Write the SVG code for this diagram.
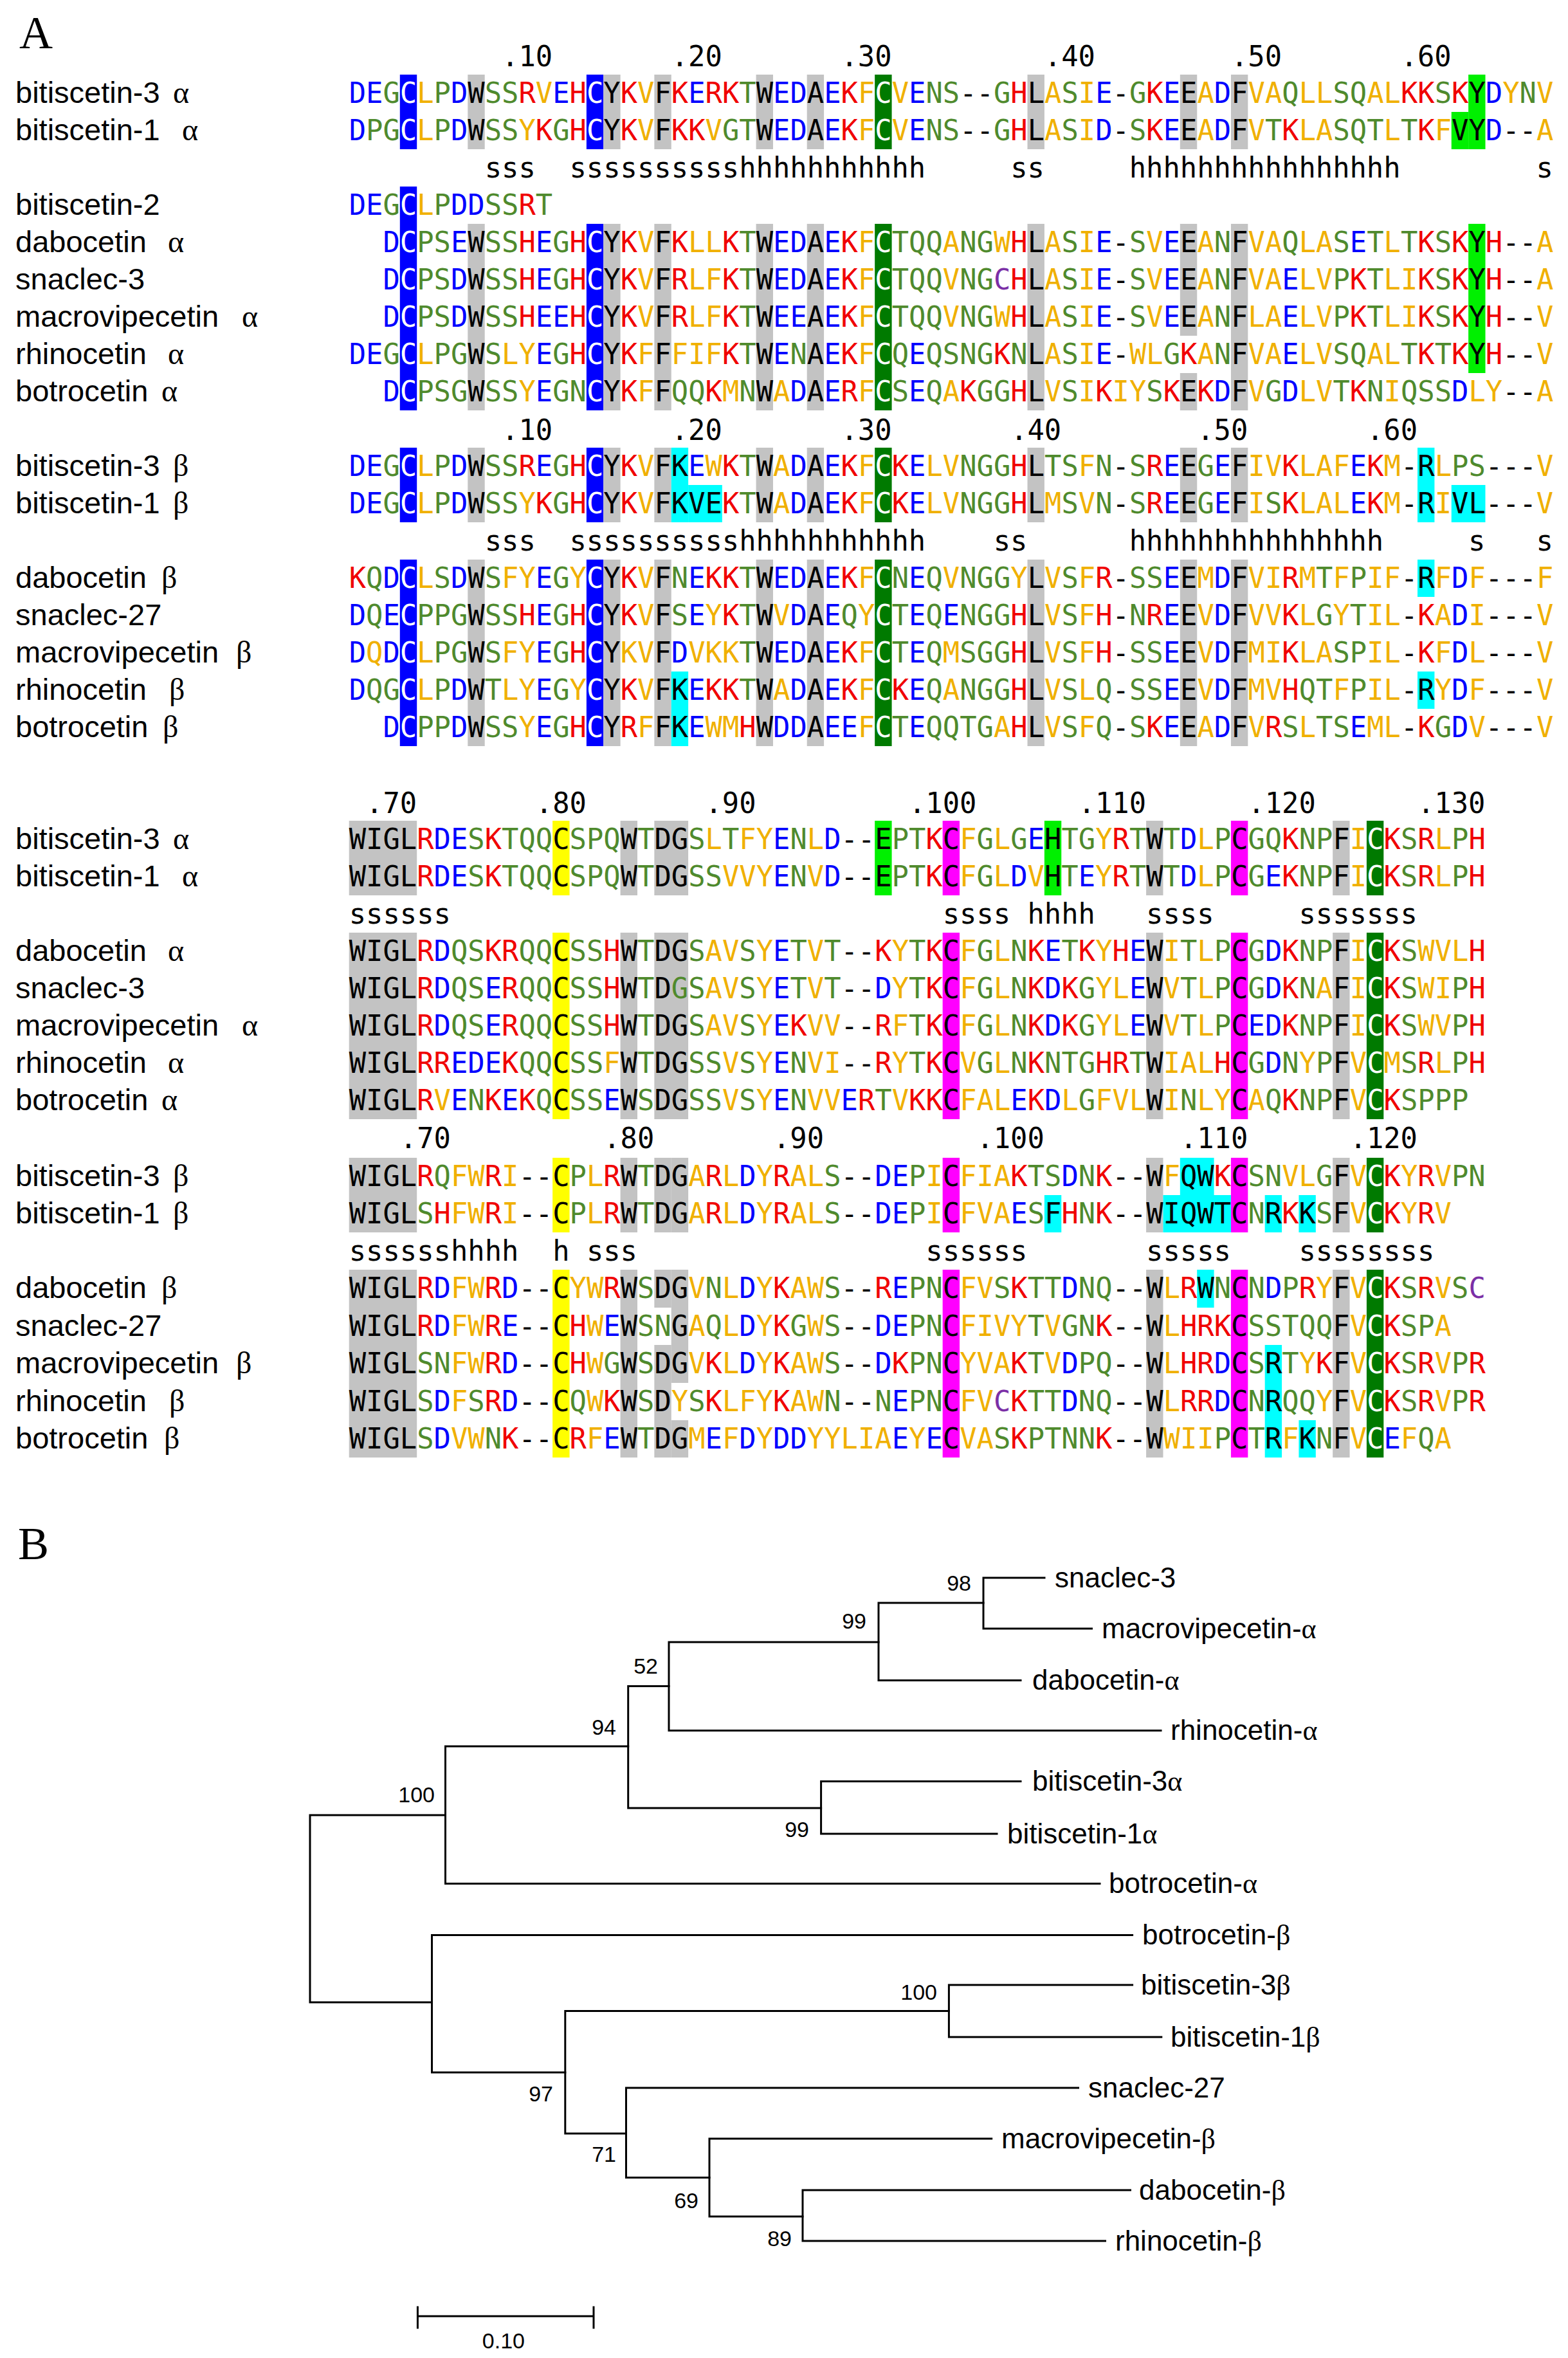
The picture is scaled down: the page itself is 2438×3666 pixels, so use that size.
<svg xmlns="http://www.w3.org/2000/svg" width="2438" height="3666" viewBox="0 0 2438 3666">
<style>
.q{font-family:"DejaVu Sans Mono",monospace;font-size:43.8px;fill:#4f8a2d}
.n{font-family:"DejaVu Sans Mono",monospace;font-size:43.8px;fill:#000}
.b{fill:#0000ff}.r{fill:#f00000}.o{fill:#f0b000}.p{fill:#7b2fa6}.k{fill:#000}.w{fill:#fff}
.nm{font-family:"Liberation Sans",Arial,sans-serif;font-size:47px;fill:#000}
.gr{font-family:"Liberation Serif","Times New Roman",serif;font-size:48px;fill:#000}
.hg{fill:#c3c3c3}.hb{fill:#0000ff}.hd{fill:#007a00}.hm{fill:#ff00ff}.hy{fill:#ffff00}.hl{fill:#00f000}.hc{fill:#00ffff}
.tl{stroke:#000;stroke-width:3;fill:none;stroke-linecap:square}
.bs{font-family:"Liberation Sans",Arial,sans-serif;font-size:34px;fill:#000;text-anchor:end}
.lf{font-family:"Liberation Sans",Arial,sans-serif;font-size:44px;fill:#000}
.lg{font-family:"Liberation Serif","Times New Roman",serif}
.pl{font-family:"Liberation Serif","Times New Roman",serif;font-size:72px;fill:#000}
</style>
<rect width="2438" height="3666" fill="#fff"/>
<text class="pl" x="30" y="75">A</text>
<text class="pl" x="28" y="2424">B</text>

<g id="highlights">
<rect class="hb" x="621.81" y="116" width="26.4" height="116"/><rect class="hb" x="621.81" y="290" width="26.4" height="348"/>
<rect class="hb" x="911.88" y="116" width="26.4" height="116"/><rect class="hb" x="911.88" y="348" width="26.4" height="290"/>
<rect class="hg" x="727.29" y="116" width="26.4" height="116"/><rect class="hg" x="727.29" y="348" width="26.4" height="290"/>
<rect class="hg" x="938.25" y="116" width="26.4" height="116"/><rect class="hg" x="938.25" y="348" width="26.4" height="290"/>
<rect class="hg" x="1017.36" y="116" width="26.4" height="116"/><rect class="hg" x="1017.36" y="348" width="26.4" height="290"/>
<rect class="hg" x="1175.58" y="116" width="26.4" height="116"/><rect class="hg" x="1175.58" y="348" width="26.4" height="290"/>
<rect class="hg" x="1254.69" y="116" width="26.4" height="116"/><rect class="hg" x="1254.69" y="348" width="26.4" height="290"/>
<rect class="hg" x="1597.5" y="116" width="26.4" height="116"/><rect class="hg" x="1597.5" y="348" width="26.4" height="290"/>
<rect class="hg" x="1913.94" y="116" width="26.4" height="116"/><rect class="hg" x="1913.94" y="348" width="26.4" height="290"/>
<rect class="hg" x="1834.83" y="116" width="26.4" height="116"/><rect class="hg" x="1834.83" y="348" width="26.4" height="174"/><rect class="hg" x="1834.83" y="580" width="26.4" height="58"/>
<rect class="hd" x="1360.17" y="116" width="26.4" height="116"/><rect class="hd" x="1360.17" y="348" width="26.4" height="290"/>
<rect class="hl" x="2283.12" y="116" width="26.4" height="116"/><rect class="hl" x="2283.12" y="348" width="26.4" height="232"/><rect class="hl" x="2256.75" y="174" width="26.4" height="58"/>
<rect class="hb" x="621.81" y="696" width="26.4" height="116"/><rect class="hb" x="621.81" y="870" width="26.4" height="290"/>
<rect class="hb" x="911.88" y="696" width="26.4" height="116"/><rect class="hb" x="911.88" y="870" width="26.4" height="290"/>
<rect class="hg" x="727.29" y="696" width="26.4" height="116"/><rect class="hg" x="727.29" y="870" width="26.4" height="290"/>
<rect class="hg" x="938.25" y="696" width="26.4" height="116"/><rect class="hg" x="938.25" y="870" width="26.4" height="290"/>
<rect class="hg" x="1017.36" y="696" width="26.4" height="116"/><rect class="hg" x="1017.36" y="870" width="26.4" height="290"/>
<rect class="hg" x="1175.58" y="696" width="26.4" height="116"/><rect class="hg" x="1175.58" y="870" width="26.4" height="290"/>
<rect class="hg" x="1254.69" y="696" width="26.4" height="116"/><rect class="hg" x="1254.69" y="870" width="26.4" height="290"/>
<rect class="hg" x="1597.5" y="696" width="26.4" height="116"/><rect class="hg" x="1597.5" y="870" width="26.4" height="290"/>
<rect class="hg" x="1834.83" y="696" width="26.4" height="116"/><rect class="hg" x="1834.83" y="870" width="26.4" height="290"/>
<rect class="hg" x="1913.94" y="696" width="26.4" height="116"/><rect class="hg" x="1913.94" y="870" width="26.4" height="290"/>
<rect class="hd" x="1360.17" y="696" width="26.4" height="116"/><rect class="hd" x="1360.17" y="870" width="26.4" height="290"/>
<rect class="hc" x="1043.73" y="696" width="26.4" height="116"/><rect class="hc" x="1043.73" y="1044" width="26.4" height="116"/>
<rect class="hc" x="1070.1" y="754" width="52.74" height="58"/>
<rect class="hc" x="2204.01" y="696" width="26.4" height="116"/><rect class="hc" x="2204.01" y="870" width="26.4" height="58"/><rect class="hc" x="2204.01" y="1044" width="26.4" height="58"/>
<rect class="hc" x="2256.75" y="754" width="52.74" height="58"/>
<rect class="hg" x="542.7" y="1276" width="105.48" height="116"/><rect class="hg" x="542.7" y="1450" width="105.48" height="290"/>
<rect class="hg" x="964.62" y="1276" width="26.4" height="116"/><rect class="hg" x="964.62" y="1450" width="26.4" height="290"/>
<rect class="hg" x="1017.36" y="1276" width="52.74" height="116"/><rect class="hg" x="1017.36" y="1450" width="52.74" height="290"/>
<rect class="hg" x="1782.09" y="1276" width="26.4" height="116"/><rect class="hg" x="1782.09" y="1450" width="26.4" height="290"/>
<rect class="hg" x="2072.16" y="1276" width="26.4" height="116"/><rect class="hg" x="2072.16" y="1450" width="26.4" height="290"/>
<rect class="hy" x="859.14" y="1276" width="26.4" height="116"/><rect class="hy" x="859.14" y="1450" width="26.4" height="290"/>
<rect class="hl" x="1360.17" y="1276" width="26.4" height="116"/><rect class="hl" x="1623.87" y="1276" width="26.4" height="116"/>
<rect class="hm" x="1465.65" y="1276" width="26.4" height="116"/><rect class="hm" x="1465.65" y="1450" width="26.4" height="290"/>
<rect class="hm" x="1913.94" y="1276" width="26.4" height="116"/><rect class="hm" x="1913.94" y="1450" width="26.4" height="290"/>
<rect class="hd" x="2124.9" y="1276" width="26.4" height="116"/><rect class="hd" x="2124.9" y="1450" width="26.4" height="290"/>
<rect class="hg" x="542.7" y="1800" width="105.48" height="116"/><rect class="hg" x="542.7" y="1974" width="105.48" height="292"/>
<rect class="hg" x="964.62" y="1800" width="26.4" height="116"/><rect class="hg" x="964.62" y="1974" width="26.4" height="292"/>
<rect class="hg" x="1782.09" y="1800" width="26.4" height="116"/><rect class="hg" x="1782.09" y="1974" width="26.4" height="292"/>
<rect class="hg" x="2072.16" y="1800" width="26.4" height="116"/><rect class="hg" x="2072.16" y="1974" width="26.4" height="292"/>
<rect class="hg" x="1017.36" y="1800" width="26.4" height="116"/><rect class="hg" x="1017.36" y="1974" width="26.4" height="59"/><rect class="hg" x="1017.36" y="2091" width="26.4" height="175"/>
<rect class="hg" x="1043.73" y="1800" width="26.4" height="116"/><rect class="hg" x="1043.73" y="1974" width="26.4" height="176"/><rect class="hg" x="1043.73" y="2208" width="26.4" height="58"/>
<rect class="hy" x="859.14" y="1800" width="26.4" height="116"/><rect class="hy" x="859.14" y="1974" width="26.4" height="292"/>
<rect class="hm" x="1465.65" y="1800" width="26.4" height="116"/><rect class="hm" x="1465.65" y="1974" width="26.4" height="292"/>
<rect class="hm" x="1913.94" y="1800" width="26.4" height="116"/><rect class="hm" x="1913.94" y="1974" width="26.4" height="292"/>
<rect class="hd" x="2124.9" y="1800" width="26.4" height="116"/><rect class="hd" x="2124.9" y="1974" width="26.4" height="292"/>
<rect class="hc" x="1834.83" y="1800" width="52.74" height="58"/><rect class="hc" x="1808.46" y="1858" width="105.48" height="58"/>
<rect class="hc" x="1623.87" y="1858" width="26.4" height="58"/><rect class="hc" x="1966.68" y="1858" width="26.4" height="58"/><rect class="hc" x="2019.42" y="1858" width="26.4" height="58"/>
<rect class="hc" x="1861.2" y="1974" width="26.4" height="59"/><rect class="hc" x="1966.68" y="2091" width="26.4" height="175"/><rect class="hc" x="2019.42" y="2208" width="26.4" height="58"/>
</g>

<g id="rulers">
<text class="n" x="780.03" y="103">.10</text><text class="n" x="1043.73" y="103">.20</text><text class="n" x="1307.43" y="103">.30</text><text class="n" x="1623.87" y="103">.40</text><text class="n" x="1913.94" y="103">.50</text><text class="n" x="2177.64" y="103">.60</text>
<text class="n" x="753.66" y="276">sss</text><text class="n" x="885.51" y="276">sssssssssshhhhhhhhhhh</text><text class="n" x="1571.13" y="276">ss</text><text class="n" x="1755.72" y="276">hhhhhhhhhhhhhhhh</text><text class="n" x="2388.6" y="276">s</text>
<text class="n" x="780.03" y="684">.10</text><text class="n" x="1043.73" y="684">.20</text><text class="n" x="1307.43" y="684">.30</text><text class="n" x="1571.13" y="684">.40</text><text class="n" x="1861.2" y="684">.50</text><text class="n" x="2124.9" y="684">.60</text>
<text class="n" x="753.66" y="856">sss</text><text class="n" x="885.51" y="856">sssssssssshhhhhhhhhhh</text><text class="n" x="1544.76" y="856">ss</text><text class="n" x="1755.72" y="856">hhhhhhhhhhhhhhh</text><text class="n" x="2283.12" y="856">s</text><text class="n" x="2388.6" y="856">s</text>
<text class="n" x="569.07" y="1264">.70</text><text class="n" x="832.77" y="1264">.80</text><text class="n" x="1096.47" y="1264">.90</text><text class="n" x="1412.91" y="1264">.100</text><text class="n" x="1676.61" y="1264">.110</text><text class="n" x="1940.31" y="1264">.120</text><text class="n" x="2204.01" y="1264">.130</text>
<text class="n" x="542.7" y="1436">ssssss</text><text class="n" x="1465.65" y="1436">ssss</text><text class="n" x="1597.5" y="1436">hhhh</text><text class="n" x="1782.09" y="1436">ssss</text><text class="n" x="2019.42" y="1436">sssssss</text>
<text class="n" x="621.81" y="1785">.70</text><text class="n" x="938.25" y="1785">.80</text><text class="n" x="1201.95" y="1785">.90</text><text class="n" x="1518.39" y="1785">.100</text><text class="n" x="1834.83" y="1785">.110</text><text class="n" x="2098.53" y="1785">.120</text>
<text class="n" x="542.7" y="1960">sssssshhhh</text><text class="n" x="859.14" y="1960">h</text><text class="n" x="911.88" y="1960">sss</text><text class="n" x="1439.28" y="1960">ssssss</text><text class="n" x="1782.09" y="1960">sssss</text><text class="n" x="2019.42" y="1960">ssssssss</text>
</g>

<g id="names">
<text class="nm" x="24" y="160">bitiscetin-3</text><text class="gr" x="269" y="160">α</text>
<text class="nm" x="24" y="218">bitiscetin-1</text><text class="gr" x="283" y="218">α</text>
<text class="nm" x="24" y="334">bitiscetin-2</text>
<text class="nm" x="24" y="392">dabocetin</text><text class="gr" x="261" y="392">α</text>
<text class="nm" x="24" y="450">snaclec-3</text>
<text class="nm" x="24" y="508">macrovipecetin</text><text class="gr" x="376" y="508">α</text>
<text class="nm" x="24" y="566">rhinocetin</text><text class="gr" x="261" y="566">α</text>
<text class="nm" x="24" y="624">botrocetin</text><text class="gr" x="251" y="624">α</text>
<text class="nm" x="24" y="740">bitiscetin-3</text><text class="gr" x="269" y="740">β</text>
<text class="nm" x="24" y="798">bitiscetin-1</text><text class="gr" x="269" y="798">β</text>
<text class="nm" x="24" y="914">dabocetin</text><text class="gr" x="251" y="914">β</text>
<text class="nm" x="24" y="972">snaclec-27</text>
<text class="nm" x="24" y="1030">macrovipecetin</text><text class="gr" x="367" y="1030">β</text>
<text class="nm" x="24" y="1088">rhinocetin</text><text class="gr" x="263" y="1088">β</text>
<text class="nm" x="24" y="1146">botrocetin</text><text class="gr" x="253" y="1146">β</text>
<text class="nm" x="24" y="1320">bitiscetin-3</text><text class="gr" x="269" y="1320">α</text>
<text class="nm" x="24" y="1378">bitiscetin-1</text><text class="gr" x="283" y="1378">α</text>
<text class="nm" x="24" y="1494">dabocetin</text><text class="gr" x="261" y="1494">α</text>
<text class="nm" x="24" y="1552">snaclec-3</text>
<text class="nm" x="24" y="1610">macrovipecetin</text><text class="gr" x="376" y="1610">α</text>
<text class="nm" x="24" y="1668">rhinocetin</text><text class="gr" x="261" y="1668">α</text>
<text class="nm" x="24" y="1726">botrocetin</text><text class="gr" x="251" y="1726">α</text>
<text class="nm" x="24" y="1844">bitiscetin-3</text><text class="gr" x="269" y="1844">β</text>
<text class="nm" x="24" y="1902">bitiscetin-1</text><text class="gr" x="269" y="1902">β</text>
<text class="nm" x="24" y="2018">dabocetin</text><text class="gr" x="251" y="2018">β</text>
<text class="nm" x="24" y="2077">snaclec-27</text>
<text class="nm" x="24" y="2135">macrovipecetin</text><text class="gr" x="367" y="2135">β</text>
<text class="nm" x="24" y="2194">rhinocetin</text><text class="gr" x="263" y="2194">β</text>
<text class="nm" x="24" y="2252">botrocetin</text><text class="gr" x="255" y="2252">β</text>
</g>

<g id="sequences">
<text class="q" x="542.7" y="160"><tspan class="b">DE</tspan>G<tspan class="w">C</tspan><tspan class="o">L</tspan>P<tspan class="b">D</tspan><tspan class="k">W</tspan>SS<tspan class="r">R</tspan><tspan class="o">V</tspan><tspan class="b">E</tspan><tspan class="r">H</tspan><tspan class="w">C</tspan><tspan class="k">Y</tspan><tspan class="r">K</tspan><tspan class="o">V</tspan><tspan class="k">F</tspan><tspan class="r">K</tspan><tspan class="b">E</tspan><tspan class="r">RK</tspan>T<tspan class="k">W</tspan><tspan class="b">ED</tspan><tspan class="k">A</tspan><tspan class="b">E</tspan><tspan class="r">K</tspan><tspan class="o">F</tspan><tspan class="w">C</tspan><tspan class="o">V</tspan><tspan class="b">E</tspan>NS<tspan class="k">--</tspan>G<tspan class="r">H</tspan><tspan class="k">L</tspan><tspan class="o">A</tspan>S<tspan class="o">I</tspan><tspan class="b">E</tspan><tspan class="k">-</tspan>G<tspan class="r">K</tspan><tspan class="b">E</tspan><tspan class="k">E</tspan><tspan class="o">A</tspan><tspan class="b">D</tspan><tspan class="k">F</tspan><tspan class="o">VA</tspan>Q<tspan class="o">LL</tspan>SQ<tspan class="o">AL</tspan><tspan class="r">KK</tspan>S<tspan class="r">K</tspan><tspan class="k">Y</tspan><tspan class="b">D</tspan><tspan class="o">Y</tspan>N<tspan class="o">V</tspan></text>
<text class="q" x="542.7" y="218"><tspan class="b">D</tspan>PG<tspan class="w">C</tspan><tspan class="o">L</tspan>P<tspan class="b">D</tspan><tspan class="k">W</tspan>SS<tspan class="o">Y</tspan><tspan class="r">K</tspan>G<tspan class="r">H</tspan><tspan class="w">C</tspan><tspan class="k">Y</tspan><tspan class="r">K</tspan><tspan class="o">V</tspan><tspan class="k">F</tspan><tspan class="r">KK</tspan><tspan class="o">V</tspan>GT<tspan class="k">W</tspan><tspan class="b">ED</tspan><tspan class="k">A</tspan><tspan class="b">E</tspan><tspan class="r">K</tspan><tspan class="o">F</tspan><tspan class="w">C</tspan><tspan class="o">V</tspan><tspan class="b">E</tspan>NS<tspan class="k">--</tspan>G<tspan class="r">H</tspan><tspan class="k">L</tspan><tspan class="o">A</tspan>S<tspan class="o">I</tspan><tspan class="b">D</tspan><tspan class="k">-</tspan>S<tspan class="r">K</tspan><tspan class="b">E</tspan><tspan class="k">E</tspan><tspan class="o">A</tspan><tspan class="b">D</tspan><tspan class="k">F</tspan><tspan class="o">V</tspan>T<tspan class="r">K</tspan><tspan class="o">LA</tspan>SQT<tspan class="o">L</tspan>T<tspan class="r">K</tspan><tspan class="o">F</tspan><tspan class="k">VY</tspan><tspan class="b">D</tspan><tspan class="k">--</tspan><tspan class="o">A</tspan></text>
<text class="q" x="542.7" y="334"><tspan class="b">DE</tspan>G<tspan class="w">C</tspan><tspan class="o">L</tspan>P<tspan class="b">DD</tspan>SS<tspan class="r">R</tspan>T</text>
<text class="q" x="595.44" y="392"><tspan class="b">D</tspan><tspan class="w">C</tspan>PS<tspan class="b">E</tspan><tspan class="k">W</tspan>SS<tspan class="r">H</tspan><tspan class="b">E</tspan>G<tspan class="r">H</tspan><tspan class="w">C</tspan><tspan class="k">Y</tspan><tspan class="r">K</tspan><tspan class="o">V</tspan><tspan class="k">F</tspan><tspan class="r">K</tspan><tspan class="o">LL</tspan><tspan class="r">K</tspan>T<tspan class="k">W</tspan><tspan class="b">ED</tspan><tspan class="k">A</tspan><tspan class="b">E</tspan><tspan class="r">K</tspan><tspan class="o">F</tspan><tspan class="w">C</tspan>TQQ<tspan class="o">A</tspan>NG<tspan class="o">W</tspan><tspan class="r">H</tspan><tspan class="k">L</tspan><tspan class="o">A</tspan>S<tspan class="o">I</tspan><tspan class="b">E</tspan><tspan class="k">-</tspan>S<tspan class="o">V</tspan><tspan class="b">E</tspan><tspan class="k">E</tspan><tspan class="o">A</tspan>N<tspan class="k">F</tspan><tspan class="o">VA</tspan>Q<tspan class="o">LA</tspan>S<tspan class="b">E</tspan>T<tspan class="o">L</tspan>T<tspan class="r">K</tspan>S<tspan class="r">K</tspan><tspan class="k">Y</tspan><tspan class="r">H</tspan><tspan class="k">--</tspan><tspan class="o">A</tspan></text>
<text class="q" x="595.44" y="450"><tspan class="b">D</tspan><tspan class="w">C</tspan>PS<tspan class="b">D</tspan><tspan class="k">W</tspan>SS<tspan class="r">H</tspan><tspan class="b">E</tspan>G<tspan class="r">H</tspan><tspan class="w">C</tspan><tspan class="k">Y</tspan><tspan class="r">K</tspan><tspan class="o">V</tspan><tspan class="k">F</tspan><tspan class="r">R</tspan><tspan class="o">LF</tspan><tspan class="r">K</tspan>T<tspan class="k">W</tspan><tspan class="b">ED</tspan><tspan class="k">A</tspan><tspan class="b">E</tspan><tspan class="r">K</tspan><tspan class="o">F</tspan><tspan class="w">C</tspan>TQQ<tspan class="o">V</tspan>NG<tspan class="p">C</tspan><tspan class="r">H</tspan><tspan class="k">L</tspan><tspan class="o">A</tspan>S<tspan class="o">I</tspan><tspan class="b">E</tspan><tspan class="k">-</tspan>S<tspan class="o">V</tspan><tspan class="b">E</tspan><tspan class="k">E</tspan><tspan class="o">A</tspan>N<tspan class="k">F</tspan><tspan class="o">VA</tspan><tspan class="b">E</tspan><tspan class="o">LV</tspan>P<tspan class="r">K</tspan>T<tspan class="o">LI</tspan><tspan class="r">K</tspan>S<tspan class="r">K</tspan><tspan class="k">Y</tspan><tspan class="r">H</tspan><tspan class="k">--</tspan><tspan class="o">A</tspan></text>
<text class="q" x="595.44" y="508"><tspan class="b">D</tspan><tspan class="w">C</tspan>PS<tspan class="b">D</tspan><tspan class="k">W</tspan>SS<tspan class="r">H</tspan><tspan class="b">EE</tspan><tspan class="r">H</tspan><tspan class="w">C</tspan><tspan class="k">Y</tspan><tspan class="r">K</tspan><tspan class="o">V</tspan><tspan class="k">F</tspan><tspan class="r">R</tspan><tspan class="o">LF</tspan><tspan class="r">K</tspan>T<tspan class="k">W</tspan><tspan class="b">EE</tspan><tspan class="k">A</tspan><tspan class="b">E</tspan><tspan class="r">K</tspan><tspan class="o">F</tspan><tspan class="w">C</tspan>TQQ<tspan class="o">V</tspan>NG<tspan class="o">W</tspan><tspan class="r">H</tspan><tspan class="k">L</tspan><tspan class="o">A</tspan>S<tspan class="o">I</tspan><tspan class="b">E</tspan><tspan class="k">-</tspan>S<tspan class="o">V</tspan><tspan class="b">E</tspan><tspan class="k">E</tspan><tspan class="o">A</tspan>N<tspan class="k">F</tspan><tspan class="o">LA</tspan><tspan class="b">E</tspan><tspan class="o">LV</tspan>P<tspan class="r">K</tspan>T<tspan class="o">LI</tspan><tspan class="r">K</tspan>S<tspan class="r">K</tspan><tspan class="k">Y</tspan><tspan class="r">H</tspan><tspan class="k">--</tspan><tspan class="o">V</tspan></text>
<text class="q" x="542.7" y="566"><tspan class="b">DE</tspan>G<tspan class="w">C</tspan><tspan class="o">L</tspan>PG<tspan class="k">W</tspan>S<tspan class="o">LY</tspan><tspan class="b">E</tspan>G<tspan class="r">H</tspan><tspan class="w">C</tspan><tspan class="k">Y</tspan><tspan class="r">K</tspan><tspan class="o">F</tspan><tspan class="k">F</tspan><tspan class="o">FIF</tspan><tspan class="r">K</tspan>T<tspan class="k">W</tspan><tspan class="b">E</tspan>N<tspan class="k">A</tspan><tspan class="b">E</tspan><tspan class="r">K</tspan><tspan class="o">F</tspan><tspan class="w">C</tspan>Q<tspan class="b">E</tspan>QSNG<tspan class="r">K</tspan>N<tspan class="k">L</tspan><tspan class="o">A</tspan>S<tspan class="o">I</tspan><tspan class="b">E</tspan><tspan class="k">-</tspan><tspan class="o">WL</tspan>G<tspan class="r">K</tspan><tspan class="o">A</tspan>N<tspan class="k">F</tspan><tspan class="o">VA</tspan><tspan class="b">E</tspan><tspan class="o">LV</tspan>SQ<tspan class="o">AL</tspan>T<tspan class="r">K</tspan>T<tspan class="r">K</tspan><tspan class="k">Y</tspan><tspan class="r">H</tspan><tspan class="k">--</tspan><tspan class="o">V</tspan></text>
<text class="q" x="595.44" y="624"><tspan class="b">D</tspan><tspan class="w">C</tspan>PSG<tspan class="k">W</tspan>SS<tspan class="o">Y</tspan><tspan class="b">E</tspan>GN<tspan class="w">C</tspan><tspan class="k">Y</tspan><tspan class="r">K</tspan><tspan class="o">F</tspan><tspan class="k">F</tspan>QQ<tspan class="r">K</tspan><tspan class="o">M</tspan>N<tspan class="k">W</tspan><tspan class="o">A</tspan><tspan class="b">D</tspan><tspan class="k">A</tspan><tspan class="b">E</tspan><tspan class="r">R</tspan><tspan class="o">F</tspan><tspan class="w">C</tspan>S<tspan class="b">E</tspan>Q<tspan class="o">A</tspan><tspan class="r">K</tspan>GG<tspan class="r">H</tspan><tspan class="k">L</tspan><tspan class="o">V</tspan>S<tspan class="o">I</tspan><tspan class="r">K</tspan><tspan class="o">IY</tspan>S<tspan class="r">K</tspan><tspan class="k">E</tspan><tspan class="r">K</tspan><tspan class="b">D</tspan><tspan class="k">F</tspan><tspan class="o">V</tspan>G<tspan class="b">D</tspan><tspan class="o">LV</tspan>T<tspan class="r">K</tspan>N<tspan class="o">I</tspan>QSS<tspan class="b">D</tspan><tspan class="o">LY</tspan><tspan class="k">--</tspan><tspan class="o">A</tspan></text>

<text class="q" x="542.7" y="740"><tspan class="b">DE</tspan>G<tspan class="w">C</tspan><tspan class="o">L</tspan>P<tspan class="b">D</tspan><tspan class="k">W</tspan>SS<tspan class="r">R</tspan><tspan class="b">E</tspan>G<tspan class="r">H</tspan><tspan class="w">C</tspan><tspan class="k">Y</tspan><tspan class="r">K</tspan><tspan class="o">V</tspan><tspan class="k">FK</tspan><tspan class="b">E</tspan><tspan class="o">W</tspan><tspan class="r">K</tspan>T<tspan class="k">W</tspan><tspan class="o">A</tspan><tspan class="b">D</tspan><tspan class="k">A</tspan><tspan class="b">E</tspan><tspan class="r">K</tspan><tspan class="o">F</tspan><tspan class="w">C</tspan><tspan class="r">K</tspan><tspan class="b">E</tspan><tspan class="o">LV</tspan>NGG<tspan class="r">H</tspan><tspan class="k">L</tspan>TS<tspan class="o">F</tspan>N<tspan class="k">-</tspan>S<tspan class="r">R</tspan><tspan class="b">E</tspan><tspan class="k">E</tspan>G<tspan class="b">E</tspan><tspan class="k">F</tspan><tspan class="o">IV</tspan><tspan class="r">K</tspan><tspan class="o">LAF</tspan><tspan class="b">E</tspan><tspan class="r">K</tspan><tspan class="o">M</tspan><tspan class="k">-R</tspan><tspan class="o">L</tspan>PS<tspan class="k">---</tspan><tspan class="o">V</tspan></text>
<text class="q" x="542.7" y="798"><tspan class="b">DE</tspan>G<tspan class="w">C</tspan><tspan class="o">L</tspan>P<tspan class="b">D</tspan><tspan class="k">W</tspan>SS<tspan class="o">Y</tspan><tspan class="r">K</tspan>G<tspan class="r">H</tspan><tspan class="w">C</tspan><tspan class="k">Y</tspan><tspan class="r">K</tspan><tspan class="o">V</tspan><tspan class="k">FKVE</tspan><tspan class="r">K</tspan>T<tspan class="k">W</tspan><tspan class="o">A</tspan><tspan class="b">D</tspan><tspan class="k">A</tspan><tspan class="b">E</tspan><tspan class="r">K</tspan><tspan class="o">F</tspan><tspan class="w">C</tspan><tspan class="r">K</tspan><tspan class="b">E</tspan><tspan class="o">LV</tspan>NGG<tspan class="r">H</tspan><tspan class="k">L</tspan><tspan class="o">M</tspan>S<tspan class="o">V</tspan>N<tspan class="k">-</tspan>S<tspan class="r">R</tspan><tspan class="b">E</tspan><tspan class="k">E</tspan>G<tspan class="b">E</tspan><tspan class="k">F</tspan><tspan class="o">I</tspan>S<tspan class="r">K</tspan><tspan class="o">LAL</tspan><tspan class="b">E</tspan><tspan class="r">K</tspan><tspan class="o">M</tspan><tspan class="k">-R</tspan><tspan class="o">I</tspan><tspan class="k">VL---</tspan><tspan class="o">V</tspan></text>
<text class="q" x="542.7" y="914"><tspan class="r">K</tspan>Q<tspan class="b">D</tspan><tspan class="w">C</tspan><tspan class="o">L</tspan>S<tspan class="b">D</tspan><tspan class="k">W</tspan>S<tspan class="o">FY</tspan><tspan class="b">E</tspan>G<tspan class="o">Y</tspan><tspan class="w">C</tspan><tspan class="k">Y</tspan><tspan class="r">K</tspan><tspan class="o">V</tspan><tspan class="k">F</tspan>N<tspan class="b">E</tspan><tspan class="r">KK</tspan>T<tspan class="k">W</tspan><tspan class="b">ED</tspan><tspan class="k">A</tspan><tspan class="b">E</tspan><tspan class="r">K</tspan><tspan class="o">F</tspan><tspan class="w">C</tspan>N<tspan class="b">E</tspan>Q<tspan class="o">V</tspan>NGG<tspan class="o">Y</tspan><tspan class="k">L</tspan><tspan class="o">V</tspan>S<tspan class="o">F</tspan><tspan class="r">R</tspan><tspan class="k">-</tspan>SS<tspan class="b">E</tspan><tspan class="k">E</tspan><tspan class="o">M</tspan><tspan class="b">D</tspan><tspan class="k">F</tspan><tspan class="o">VI</tspan><tspan class="r">R</tspan><tspan class="o">M</tspan>T<tspan class="o">F</tspan>P<tspan class="o">IF</tspan><tspan class="k">-R</tspan><tspan class="o">F</tspan><tspan class="b">D</tspan><tspan class="o">F</tspan><tspan class="k">---</tspan><tspan class="o">F</tspan></text>
<text class="q" x="542.7" y="972"><tspan class="b">D</tspan>Q<tspan class="b">E</tspan><tspan class="w">C</tspan>PPG<tspan class="k">W</tspan>SS<tspan class="r">H</tspan><tspan class="b">E</tspan>G<tspan class="r">H</tspan><tspan class="w">C</tspan><tspan class="k">Y</tspan><tspan class="r">K</tspan><tspan class="o">V</tspan><tspan class="k">F</tspan>S<tspan class="b">E</tspan><tspan class="o">Y</tspan><tspan class="r">K</tspan>T<tspan class="k">W</tspan><tspan class="o">V</tspan><tspan class="b">D</tspan><tspan class="k">A</tspan><tspan class="b">E</tspan>Q<tspan class="o">Y</tspan><tspan class="w">C</tspan>T<tspan class="b">E</tspan>Q<tspan class="b">E</tspan>NGG<tspan class="r">H</tspan><tspan class="k">L</tspan><tspan class="o">V</tspan>S<tspan class="o">F</tspan><tspan class="r">H</tspan><tspan class="k">-</tspan>N<tspan class="r">R</tspan><tspan class="b">E</tspan><tspan class="k">E</tspan><tspan class="o">V</tspan><tspan class="b">D</tspan><tspan class="k">F</tspan><tspan class="o">VV</tspan><tspan class="r">K</tspan><tspan class="o">L</tspan>G<tspan class="o">Y</tspan>T<tspan class="o">IL</tspan><tspan class="k">-</tspan><tspan class="r">K</tspan><tspan class="o">A</tspan><tspan class="b">D</tspan><tspan class="o">I</tspan><tspan class="k">---</tspan><tspan class="o">V</tspan></text>
<text class="q" x="542.7" y="1030"><tspan class="b">D</tspan><tspan class="o">Q</tspan><tspan class="b">D</tspan><tspan class="w">C</tspan><tspan class="o">L</tspan>PG<tspan class="k">W</tspan>S<tspan class="o">FY</tspan><tspan class="b">E</tspan>G<tspan class="r">H</tspan><tspan class="w">C</tspan><tspan class="k">Y</tspan><tspan class="o">KV</tspan><tspan class="k">F</tspan><tspan class="b">D</tspan><tspan class="o">VKK</tspan>T<tspan class="k">W</tspan><tspan class="b">ED</tspan><tspan class="k">A</tspan><tspan class="b">E</tspan><tspan class="r">K</tspan><tspan class="o">F</tspan><tspan class="w">C</tspan>T<tspan class="b">E</tspan>Q<tspan class="o">M</tspan>SGG<tspan class="r">H</tspan><tspan class="k">L</tspan><tspan class="o">V</tspan>S<tspan class="o">F</tspan><tspan class="r">H</tspan><tspan class="k">-</tspan>SS<tspan class="b">E</tspan><tspan class="k">E</tspan><tspan class="o">V</tspan><tspan class="b">D</tspan><tspan class="k">F</tspan><tspan class="o">MI</tspan><tspan class="r">K</tspan><tspan class="o">LA</tspan>SP<tspan class="o">IL</tspan><tspan class="k">-</tspan><tspan class="r">K</tspan><tspan class="o">F</tspan><tspan class="b">D</tspan><tspan class="o">L</tspan><tspan class="k">---</tspan><tspan class="o">V</tspan></text>
<text class="q" x="542.7" y="1088"><tspan class="b">D</tspan>QG<tspan class="w">C</tspan><tspan class="o">L</tspan>P<tspan class="b">D</tspan><tspan class="k">W</tspan>T<tspan class="o">LY</tspan><tspan class="b">E</tspan>G<tspan class="o">Y</tspan><tspan class="w">C</tspan><tspan class="k">Y</tspan><tspan class="r">K</tspan><tspan class="o">V</tspan><tspan class="k">FK</tspan><tspan class="b">E</tspan><tspan class="r">KK</tspan>T<tspan class="k">W</tspan><tspan class="o">A</tspan><tspan class="b">D</tspan><tspan class="k">A</tspan><tspan class="b">E</tspan><tspan class="r">K</tspan><tspan class="o">F</tspan><tspan class="w">C</tspan><tspan class="r">K</tspan><tspan class="b">E</tspan>Q<tspan class="o">A</tspan>NGG<tspan class="r">H</tspan><tspan class="k">L</tspan><tspan class="o">V</tspan>S<tspan class="o">L</tspan>Q<tspan class="k">-</tspan>SS<tspan class="b">E</tspan><tspan class="k">E</tspan><tspan class="o">V</tspan><tspan class="b">D</tspan><tspan class="k">F</tspan><tspan class="o">MV</tspan><tspan class="r">H</tspan>QT<tspan class="o">F</tspan>P<tspan class="o">IL</tspan><tspan class="k">-R</tspan><tspan class="o">Y</tspan><tspan class="b">D</tspan><tspan class="o">F</tspan><tspan class="k">---</tspan><tspan class="o">V</tspan></text>
<text class="q" x="595.44" y="1146"><tspan class="b">D</tspan><tspan class="w">C</tspan>PP<tspan class="b">D</tspan><tspan class="k">W</tspan>SS<tspan class="o">Y</tspan><tspan class="b">E</tspan>G<tspan class="r">H</tspan><tspan class="w">C</tspan><tspan class="k">Y</tspan><tspan class="r">R</tspan><tspan class="o">F</tspan><tspan class="k">FK</tspan><tspan class="b">E</tspan><tspan class="o">WM</tspan><tspan class="r">H</tspan><tspan class="k">W</tspan><tspan class="b">DD</tspan><tspan class="k">A</tspan><tspan class="b">EE</tspan><tspan class="o">F</tspan><tspan class="w">C</tspan>T<tspan class="b">E</tspan>QQTG<tspan class="o">A</tspan><tspan class="r">H</tspan><tspan class="k">L</tspan><tspan class="o">V</tspan>S<tspan class="o">F</tspan>Q<tspan class="k">-</tspan>S<tspan class="r">K</tspan><tspan class="b">E</tspan><tspan class="k">E</tspan><tspan class="o">A</tspan><tspan class="b">D</tspan><tspan class="k">F</tspan><tspan class="o">V</tspan><tspan class="r">R</tspan>S<tspan class="o">L</tspan>TS<tspan class="b">E</tspan><tspan class="o">ML</tspan><tspan class="k">-</tspan><tspan class="r">K</tspan>G<tspan class="b">D</tspan><tspan class="o">V</tspan><tspan class="k">---</tspan><tspan class="o">V</tspan></text>

<text class="q" x="542.7" y="1320"><tspan class="k">WIGL</tspan><tspan class="r">R</tspan><tspan class="b">DE</tspan>S<tspan class="r">K</tspan>TQQ<tspan class="k">C</tspan>SPQ<tspan class="k">W</tspan>T<tspan class="k">DG</tspan>S<tspan class="o">L</tspan>T<tspan class="o">FY</tspan><tspan class="b">E</tspan>N<tspan class="o">L</tspan><tspan class="b">D</tspan><tspan class="k">--E</tspan>PT<tspan class="r">K</tspan><tspan class="k">C</tspan><tspan class="o">F</tspan>G<tspan class="o">L</tspan>G<tspan class="b">E</tspan><tspan class="k">H</tspan>TG<tspan class="o">Y</tspan><tspan class="r">R</tspan>T<tspan class="k">W</tspan>T<tspan class="b">D</tspan><tspan class="o">L</tspan>P<tspan class="k">C</tspan>GQ<tspan class="r">K</tspan>NP<tspan class="k">F</tspan><tspan class="o">I</tspan><tspan class="w">C</tspan><tspan class="r">K</tspan>S<tspan class="r">R</tspan><tspan class="o">L</tspan>P<tspan class="r">H</tspan></text>
<text class="q" x="542.7" y="1378"><tspan class="k">WIGL</tspan><tspan class="r">R</tspan><tspan class="b">DE</tspan>S<tspan class="r">K</tspan>TQQ<tspan class="k">C</tspan>SPQ<tspan class="k">W</tspan>T<tspan class="k">DG</tspan>SS<tspan class="o">VVY</tspan><tspan class="b">E</tspan>N<tspan class="o">V</tspan><tspan class="b">D</tspan><tspan class="k">--E</tspan>PT<tspan class="r">K</tspan><tspan class="k">C</tspan><tspan class="o">F</tspan>G<tspan class="o">L</tspan><tspan class="b">D</tspan><tspan class="o">V</tspan><tspan class="k">H</tspan>T<tspan class="b">E</tspan><tspan class="o">Y</tspan><tspan class="r">R</tspan>T<tspan class="k">W</tspan>T<tspan class="b">D</tspan><tspan class="o">L</tspan>P<tspan class="k">C</tspan>G<tspan class="b">E</tspan><tspan class="r">K</tspan>NP<tspan class="k">F</tspan><tspan class="o">I</tspan><tspan class="w">C</tspan><tspan class="r">K</tspan>S<tspan class="r">R</tspan><tspan class="o">L</tspan>P<tspan class="r">H</tspan></text>
<text class="q" x="542.7" y="1494"><tspan class="k">WIGL</tspan><tspan class="r">R</tspan><tspan class="b">D</tspan>QS<tspan class="r">KR</tspan>QQ<tspan class="k">C</tspan>SS<tspan class="r">H</tspan><tspan class="k">W</tspan>T<tspan class="k">DG</tspan>S<tspan class="o">AV</tspan>S<tspan class="o">Y</tspan><tspan class="b">E</tspan>T<tspan class="o">V</tspan>T<tspan class="k">--</tspan><tspan class="r">K</tspan><tspan class="o">Y</tspan>T<tspan class="r">K</tspan><tspan class="k">C</tspan><tspan class="o">F</tspan>G<tspan class="o">L</tspan>N<tspan class="r">K</tspan><tspan class="b">E</tspan>T<tspan class="r">K</tspan><tspan class="o">Y</tspan><tspan class="r">H</tspan><tspan class="b">E</tspan><tspan class="k">W</tspan><tspan class="o">I</tspan>T<tspan class="o">L</tspan>P<tspan class="k">C</tspan>G<tspan class="b">D</tspan><tspan class="r">K</tspan>NP<tspan class="k">F</tspan><tspan class="o">I</tspan><tspan class="w">C</tspan><tspan class="r">K</tspan>S<tspan class="o">WVL</tspan><tspan class="r">H</tspan></text>
<text class="q" x="542.7" y="1552"><tspan class="k">WIGL</tspan><tspan class="r">R</tspan><tspan class="b">D</tspan>QS<tspan class="b">E</tspan><tspan class="r">R</tspan>QQ<tspan class="k">C</tspan>SS<tspan class="r">H</tspan><tspan class="k">W</tspan>T<tspan class="k">D</tspan>GS<tspan class="o">AV</tspan>S<tspan class="o">Y</tspan><tspan class="b">E</tspan>T<tspan class="o">V</tspan>T<tspan class="k">--</tspan><tspan class="b">D</tspan><tspan class="o">Y</tspan>T<tspan class="r">K</tspan><tspan class="k">C</tspan><tspan class="o">F</tspan>G<tspan class="o">L</tspan>N<tspan class="r">K</tspan><tspan class="b">D</tspan><tspan class="r">K</tspan>G<tspan class="o">YL</tspan><tspan class="b">E</tspan><tspan class="k">W</tspan><tspan class="o">V</tspan>T<tspan class="o">L</tspan>P<tspan class="k">C</tspan>G<tspan class="b">D</tspan><tspan class="r">K</tspan>N<tspan class="o">A</tspan><tspan class="k">F</tspan><tspan class="o">I</tspan><tspan class="w">C</tspan><tspan class="r">K</tspan>S<tspan class="o">WI</tspan>P<tspan class="r">H</tspan></text>
<text class="q" x="542.7" y="1610"><tspan class="k">WIGL</tspan><tspan class="r">R</tspan><tspan class="b">D</tspan>QS<tspan class="b">E</tspan><tspan class="r">R</tspan>QQ<tspan class="k">C</tspan>SS<tspan class="r">H</tspan><tspan class="k">W</tspan>T<tspan class="k">DG</tspan>S<tspan class="o">AV</tspan>S<tspan class="o">Y</tspan><tspan class="b">E</tspan><tspan class="r">K</tspan><tspan class="o">VV</tspan><tspan class="k">--</tspan><tspan class="r">R</tspan><tspan class="o">F</tspan>T<tspan class="r">K</tspan><tspan class="k">C</tspan><tspan class="o">F</tspan>G<tspan class="o">L</tspan>N<tspan class="r">K</tspan><tspan class="b">D</tspan><tspan class="r">K</tspan>G<tspan class="o">YL</tspan><tspan class="b">E</tspan><tspan class="k">W</tspan><tspan class="o">V</tspan>T<tspan class="o">L</tspan>P<tspan class="k">C</tspan><tspan class="b">ED</tspan><tspan class="r">K</tspan>NP<tspan class="k">F</tspan><tspan class="o">I</tspan><tspan class="w">C</tspan><tspan class="r">K</tspan>S<tspan class="o">WV</tspan>P<tspan class="r">H</tspan></text>
<text class="q" x="542.7" y="1668"><tspan class="k">WIGL</tspan><tspan class="r">RR</tspan><tspan class="b">EDE</tspan><tspan class="r">K</tspan>QQ<tspan class="k">C</tspan>SS<tspan class="o">F</tspan><tspan class="k">W</tspan>T<tspan class="k">DG</tspan>SS<tspan class="o">V</tspan>S<tspan class="o">Y</tspan><tspan class="b">E</tspan>N<tspan class="o">VI</tspan><tspan class="k">--</tspan><tspan class="r">R</tspan><tspan class="o">Y</tspan>T<tspan class="r">K</tspan><tspan class="k">C</tspan><tspan class="o">V</tspan>G<tspan class="o">L</tspan>N<tspan class="r">K</tspan>NTG<tspan class="r">HR</tspan>T<tspan class="k">W</tspan><tspan class="o">IAL</tspan><tspan class="r">H</tspan><tspan class="k">C</tspan>G<tspan class="b">D</tspan>N<tspan class="o">Y</tspan>P<tspan class="k">F</tspan><tspan class="o">V</tspan><tspan class="w">C</tspan><tspan class="o">M</tspan>S<tspan class="r">R</tspan><tspan class="o">L</tspan>P<tspan class="r">H</tspan></text>
<text class="q" x="542.7" y="1726"><tspan class="k">WIGL</tspan><tspan class="r">R</tspan><tspan class="o">V</tspan><tspan class="b">E</tspan>N<tspan class="r">K</tspan><tspan class="b">E</tspan><tspan class="r">K</tspan>Q<tspan class="k">C</tspan>SS<tspan class="b">E</tspan><tspan class="k">W</tspan>S<tspan class="k">DG</tspan>SS<tspan class="o">V</tspan>S<tspan class="o">Y</tspan><tspan class="b">E</tspan>N<tspan class="o">VV</tspan><tspan class="b">E</tspan><tspan class="r">R</tspan>T<tspan class="o">V</tspan><tspan class="r">KK</tspan><tspan class="k">C</tspan><tspan class="o">FAL</tspan><tspan class="b">E</tspan><tspan class="r">K</tspan><tspan class="b">D</tspan><tspan class="o">L</tspan>G<tspan class="o">FVL</tspan><tspan class="k">W</tspan><tspan class="o">I</tspan>N<tspan class="o">LY</tspan><tspan class="k">C</tspan><tspan class="o">A</tspan>Q<tspan class="r">K</tspan>NP<tspan class="k">F</tspan><tspan class="o">V</tspan><tspan class="w">C</tspan><tspan class="r">K</tspan>SPPP</text>

<text class="q" x="542.7" y="1844"><tspan class="k">WIGL</tspan><tspan class="r">R</tspan>Q<tspan class="o">FW</tspan><tspan class="r">R</tspan><tspan class="o">I</tspan><tspan class="k">--C</tspan>P<tspan class="o">L</tspan><tspan class="r">R</tspan><tspan class="k">W</tspan>T<tspan class="k">DG</tspan><tspan class="o">A</tspan><tspan class="r">R</tspan><tspan class="o">L</tspan><tspan class="b">D</tspan><tspan class="o">Y</tspan><tspan class="r">R</tspan><tspan class="o">AL</tspan>S<tspan class="k">--</tspan><tspan class="b">DE</tspan>P<tspan class="o">I</tspan><tspan class="k">C</tspan><tspan class="o">FIA</tspan><tspan class="r">K</tspan>TS<tspan class="b">D</tspan>N<tspan class="r">K</tspan><tspan class="k">--W</tspan><tspan class="o">F</tspan><tspan class="k">QW</tspan><tspan class="r">K</tspan><tspan class="k">C</tspan>SN<tspan class="o">VL</tspan>G<tspan class="k">F</tspan><tspan class="o">V</tspan><tspan class="w">C</tspan><tspan class="r">K</tspan><tspan class="o">Y</tspan><tspan class="r">R</tspan><tspan class="o">V</tspan>PN</text>
<text class="q" x="542.7" y="1902"><tspan class="k">WIGL</tspan>S<tspan class="r">H</tspan><tspan class="o">FW</tspan><tspan class="r">R</tspan><tspan class="o">I</tspan><tspan class="k">--C</tspan>P<tspan class="o">L</tspan><tspan class="r">R</tspan><tspan class="k">W</tspan>T<tspan class="k">DG</tspan><tspan class="o">A</tspan><tspan class="r">R</tspan><tspan class="o">L</tspan><tspan class="b">D</tspan><tspan class="o">Y</tspan><tspan class="r">R</tspan><tspan class="o">AL</tspan>S<tspan class="k">--</tspan><tspan class="b">DE</tspan>P<tspan class="o">I</tspan><tspan class="k">C</tspan><tspan class="o">FVA</tspan><tspan class="b">E</tspan>S<tspan class="k">F</tspan><tspan class="r">H</tspan>N<tspan class="r">K</tspan><tspan class="k">--WIQWTC</tspan>N<tspan class="k">R</tspan><tspan class="r">K</tspan><tspan class="k">K</tspan>S<tspan class="k">F</tspan><tspan class="o">V</tspan><tspan class="w">C</tspan><tspan class="r">K</tspan><tspan class="o">Y</tspan><tspan class="r">R</tspan><tspan class="o">V</tspan></text>
<text class="q" x="542.7" y="2018"><tspan class="k">WIGL</tspan><tspan class="r">R</tspan><tspan class="b">D</tspan><tspan class="o">FW</tspan><tspan class="r">R</tspan><tspan class="b">D</tspan><tspan class="k">--C</tspan><tspan class="o">YW</tspan><tspan class="r">R</tspan><tspan class="k">W</tspan>S<tspan class="k">DG</tspan><tspan class="o">V</tspan>N<tspan class="o">L</tspan><tspan class="b">D</tspan><tspan class="o">Y</tspan><tspan class="r">K</tspan><tspan class="o">AW</tspan>S<tspan class="k">--</tspan><tspan class="r">R</tspan><tspan class="b">E</tspan>PN<tspan class="k">C</tspan><tspan class="o">FV</tspan>S<tspan class="r">K</tspan>TT<tspan class="b">D</tspan>NQ<tspan class="k">--W</tspan><tspan class="o">L</tspan><tspan class="r">R</tspan><tspan class="k">W</tspan>N<tspan class="k">C</tspan>N<tspan class="b">D</tspan>P<tspan class="r">R</tspan><tspan class="o">Y</tspan><tspan class="k">F</tspan><tspan class="o">V</tspan><tspan class="w">C</tspan><tspan class="r">K</tspan>S<tspan class="r">R</tspan><tspan class="o">V</tspan>S<tspan class="p">C</tspan></text>
<text class="q" x="542.7" y="2077"><tspan class="k">WIGL</tspan><tspan class="r">R</tspan><tspan class="b">D</tspan><tspan class="o">FW</tspan><tspan class="r">R</tspan><tspan class="b">E</tspan><tspan class="k">--C</tspan><tspan class="r">H</tspan><tspan class="o">W</tspan><tspan class="b">E</tspan><tspan class="k">W</tspan>SN<tspan class="k">G</tspan><tspan class="o">A</tspan>Q<tspan class="o">L</tspan><tspan class="b">D</tspan><tspan class="o">Y</tspan><tspan class="r">K</tspan>G<tspan class="o">W</tspan>S<tspan class="k">--</tspan><tspan class="b">DE</tspan>PN<tspan class="k">C</tspan><tspan class="o">FIVY</tspan>T<tspan class="o">V</tspan>GN<tspan class="r">K</tspan><tspan class="k">--W</tspan><tspan class="o">L</tspan><tspan class="r">HRK</tspan><tspan class="k">C</tspan>SSTQQ<tspan class="k">F</tspan><tspan class="o">V</tspan><tspan class="w">C</tspan><tspan class="r">K</tspan>SP<tspan class="o">A</tspan></text>
<text class="q" x="542.7" y="2135"><tspan class="k">WIGL</tspan>SN<tspan class="o">FW</tspan><tspan class="r">R</tspan><tspan class="b">D</tspan><tspan class="k">--C</tspan><tspan class="r">H</tspan><tspan class="o">W</tspan>G<tspan class="k">W</tspan>S<tspan class="k">DG</tspan><tspan class="o">V</tspan><tspan class="r">K</tspan><tspan class="o">L</tspan><tspan class="b">D</tspan><tspan class="o">Y</tspan><tspan class="r">K</tspan><tspan class="o">AW</tspan>S<tspan class="k">--</tspan><tspan class="b">D</tspan><tspan class="r">K</tspan>PN<tspan class="k">C</tspan><tspan class="o">YVA</tspan><tspan class="r">K</tspan>T<tspan class="o">V</tspan><tspan class="b">D</tspan>PQ<tspan class="k">--W</tspan><tspan class="o">L</tspan><tspan class="r">HR</tspan><tspan class="b">D</tspan><tspan class="k">C</tspan>S<tspan class="k">R</tspan>T<tspan class="o">Y</tspan><tspan class="r">K</tspan><tspan class="k">F</tspan><tspan class="o">V</tspan><tspan class="w">C</tspan><tspan class="r">K</tspan>S<tspan class="r">R</tspan><tspan class="o">V</tspan>P<tspan class="r">R</tspan></text>
<text class="q" x="542.7" y="2194"><tspan class="k">WIGL</tspan>S<tspan class="b">D</tspan><tspan class="o">F</tspan>S<tspan class="r">R</tspan><tspan class="b">D</tspan><tspan class="k">--C</tspan>Q<tspan class="o">W</tspan><tspan class="r">K</tspan><tspan class="k">W</tspan>S<tspan class="k">D</tspan><tspan class="o">Y</tspan>S<tspan class="r">K</tspan><tspan class="o">LFY</tspan><tspan class="r">K</tspan><tspan class="o">AW</tspan>N<tspan class="k">--</tspan>N<tspan class="b">E</tspan>PN<tspan class="k">C</tspan><tspan class="o">FV</tspan><tspan class="p">C</tspan><tspan class="r">K</tspan>TT<tspan class="b">D</tspan>NQ<tspan class="k">--W</tspan><tspan class="o">L</tspan><tspan class="r">RR</tspan><tspan class="b">D</tspan><tspan class="k">C</tspan>N<tspan class="k">R</tspan>QQ<tspan class="o">Y</tspan><tspan class="k">F</tspan><tspan class="o">V</tspan><tspan class="w">C</tspan><tspan class="r">K</tspan>S<tspan class="r">R</tspan><tspan class="o">V</tspan>P<tspan class="r">R</tspan></text>
<text class="q" x="542.7" y="2252"><tspan class="k">WIGL</tspan>S<tspan class="b">D</tspan><tspan class="o">VW</tspan>N<tspan class="r">K</tspan><tspan class="k">--C</tspan><tspan class="r">R</tspan><tspan class="o">F</tspan><tspan class="b">E</tspan><tspan class="k">W</tspan>T<tspan class="k">DG</tspan><tspan class="o">M</tspan><tspan class="b">E</tspan><tspan class="o">F</tspan><tspan class="b">D</tspan><tspan class="o">Y</tspan><tspan class="b">DD</tspan><tspan class="o">YYLIA</tspan><tspan class="b">E</tspan><tspan class="o">Y</tspan><tspan class="b">E</tspan><tspan class="k">C</tspan><tspan class="o">VA</tspan>S<tspan class="r">K</tspan>PTNN<tspan class="r">K</tspan><tspan class="k">--W</tspan><tspan class="o">WII</tspan>P<tspan class="k">C</tspan>T<tspan class="k">R</tspan><tspan class="o">F</tspan><tspan class="k">K</tspan>N<tspan class="k">F</tspan><tspan class="o">V</tspan><tspan class="w">C</tspan><tspan class="b">E</tspan><tspan class="o">F</tspan>Q<tspan class="o">A</tspan></text>
</g>

<g id="connectors">
<path class="tl" d="M482 2822V3113M482 2822H692.5M482 3113H671.5"/>
<path class="tl" d="M692.5 2715V2928.6M692.5 2715H976.7M692.5 2928.6H1710"/>
<path class="tl" d="M976.7 2621.4V2811M976.7 2621.4H1040M976.7 2811H1276.6"/>
<path class="tl" d="M1040 2553V2690.6M1040 2553H1366M1040 2690.6H1805"/>
<path class="tl" d="M1366 2492V2612.5M1366 2492H1529M1366 2612.5H1587"/>
<path class="tl" d="M1529 2453V2532M1529 2453H1624M1529 2532H1697.5"/>
<path class="tl" d="M1276.6 2769.6V2851M1276.6 2769.6H1587M1276.6 2851H1550"/>
<path class="tl" d="M671.5 3008.4V3222M671.5 3008.4H1760.6M671.5 3222H878.8"/>
<path class="tl" d="M878.8 3126.6V3317M878.8 3126.6H1475.4M878.8 3317H973.5"/>
<path class="tl" d="M1475.4 3086V3167M1475.4 3086H1760.6M1475.4 3167H1805.8"/>
<path class="tl" d="M973.5 3246V3385.6M973.5 3246H1676.5M973.5 3385.6H1103"/>
<path class="tl" d="M1103 3325V3446M1103 3325H1541.7M1103 3446H1248"/>
<path class="tl" d="M1248 3405V3484M1248 3405H1757.5M1248 3484H1718.5"/>
<path class="tl" d="M649.4 3601H923M649.4 3587V3619M923 3587V3619"/>
</g>

<g id="bootstrap">
<text class="bs" x="1510" y="2473">98</text>
<text class="bs" x="1347" y="2532">99</text>
<text class="bs" x="1023" y="2602">52</text>
<text class="bs" x="958" y="2697">94</text>
<text class="bs" x="676" y="2802">100</text>
<text class="bs" x="1258" y="2856">99</text>
<text class="bs" x="1457" y="3109">100</text>
<text class="bs" x="860" y="3267">97</text>
<text class="bs" x="958" y="3361">71</text>
<text class="bs" x="1086" y="3433">69</text>
<text class="bs" x="1231" y="3492">89</text>
<text class="bs" x="816" y="3651">0.10</text>
</g>

<g id="leaves">
<g id="leaf-snaclec3"><text class="lf" x="1640" y="2468">snaclec-3</text></g>
<g id="leaf-macroa"><text class="lf" x="1713" y="2547">macrovipecetin-<tspan class="lg">α</tspan></text></g>
<g id="leaf-daboa"><text class="lf" x="1605" y="2627">dabocetin-<tspan class="lg">α</tspan></text></g>
<g id="leaf-rhinoa"><text class="lf" x="1820" y="2705">rhinocetin-<tspan class="lg">α</tspan></text></g>
<g id="leaf-bit3a"><text class="lf" x="1605" y="2784">bitiscetin-3<tspan class="lg">α</tspan></text></g>
<g id="leaf-bit1a"><text class="lf" x="1566" y="2866">bitiscetin-1<tspan class="lg">α</tspan></text></g>
<g id="leaf-botroa"><text class="lf" x="1724" y="2943">botrocetin-<tspan class="lg">α</tspan></text></g>
<g id="leaf-botrob"><text class="lf" x="1776" y="3023">botrocetin-<tspan class="lg">β</tspan></text></g>
<g id="leaf-bit3b"><text class="lf" x="1774" y="3101">bitiscetin-3<tspan class="lg">β</tspan></text></g>
<g id="leaf-bit1b"><text class="lf" x="1820" y="3182">bitiscetin-1<tspan class="lg">β</tspan></text></g>
<g id="leaf-snaclec27"><text class="lf" x="1692" y="3261">snaclec-27</text></g>
<g id="leaf-macrob"><text class="lf" x="1557" y="3340">macrovipecetin-<tspan class="lg">β</tspan></text></g>
<g id="leaf-dabob"><text class="lf" x="1771" y="3420">dabocetin-<tspan class="lg">β</tspan></text></g>
<g id="leaf-rhinob"><text class="lf" x="1734" y="3499">rhinocetin-<tspan class="lg">β</tspan></text></g>
</g>
</svg>
